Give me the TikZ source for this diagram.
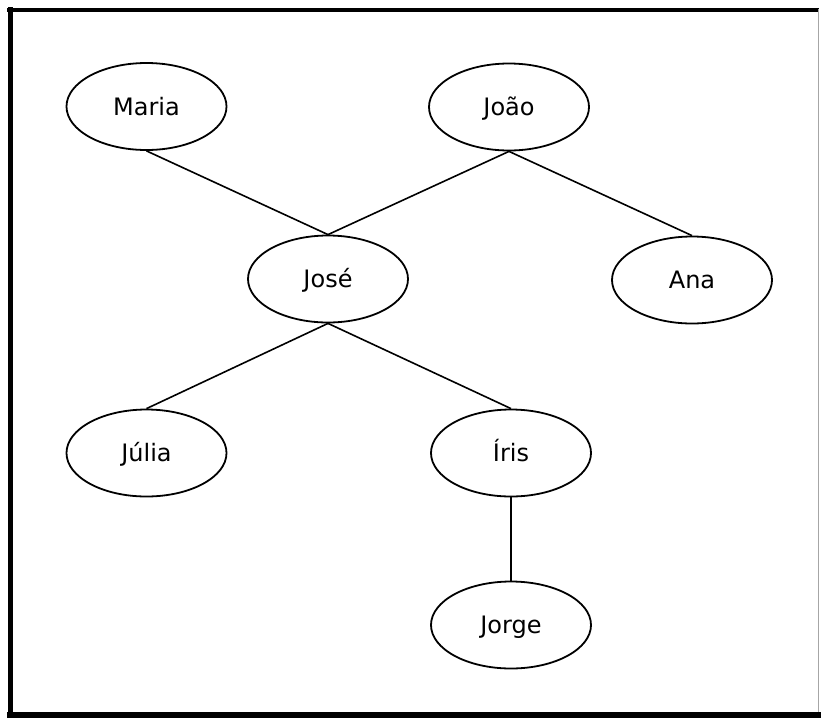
\documentclass[tikz,border=0pt]{standalone}
\usepackage{fontspec}
\setmainfont{DejaVu Sans}
\usetikzlibrary{shapes.geometric}
\begin{document}
\begin{tikzpicture}[x=1pt,y=-1pt,
  person/.style={draw, ellipse, line width=1.8pt, minimum width=160pt,
    minimum height=87pt, inner sep=0pt, text height=17.5pt, text depth=0pt,
    font=\fontsize{24}{28}\selectfont},
  link/.style={line width=1.6pt}]
\useasboundingbox (0,0) rectangle (821,718);
\fill[white] (0,0) rectangle (821,718);
% frame
\draw[line width=4pt] (7,9.5) -- (819,9.5);
\draw[line width=5pt] (10,7) -- (10,714);
\draw[line width=6pt] (7,715) -- (821,715);
\draw[line width=1.2pt, black!35] (818.5,9) -- (818.5,712);
% people
\node[person] (maria) at (146.5,106.5) {Maria};
\node[person] (joao)  at (509,107)   {João};
\node[person] (jose)  at (328,279)   {José};
\node[person] (ana)   at (692,280)   {Ana};
\node[person] (julia) at (146.5,453) {Júlia};
\node[person] (iris)  at (511,453)   {Íris};
\node[person] (jorge) at (511,625)   {Jorge};
% relations
\draw[link] (maria.south) -- (jose.north);
\draw[link] (joao.south) -- (jose.north);
\draw[link] (joao.south) -- (ana.north);
\draw[link] (jose.south) -- (julia.north);
\draw[link] (jose.south) -- (iris.north);
\draw[link] (iris.south) -- (jorge.north);
\end{tikzpicture}
\end{document}
